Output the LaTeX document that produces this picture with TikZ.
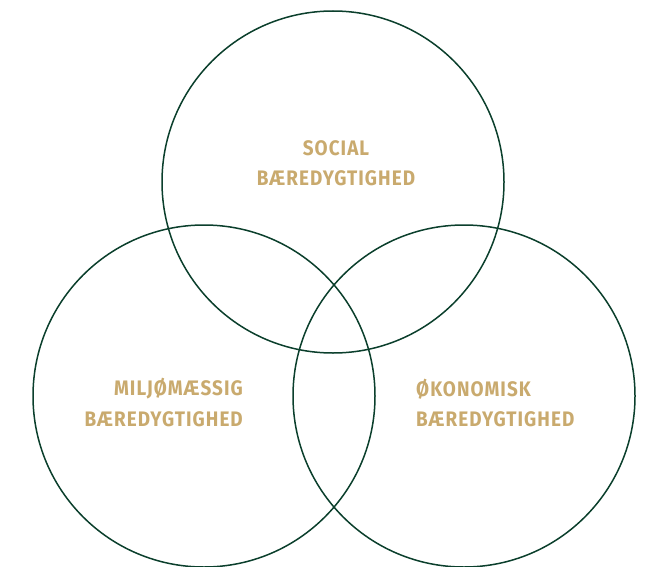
\documentclass[tikz,border=0pt]{standalone}
\usepackage{fontspec}
\usepackage{graphicx}
\setmainfont{Fira Sans}
\definecolor{ring}{HTML}{0B3F2C}
\definecolor{gold}{HTML}{C9AA6E}
\newcommand{\cond}[1]{\scalebox{0.9}[1]{#1}}
\begin{document}
\begin{tikzpicture}[x=1pt,y=-1pt,
  ring/.style={draw=ring,line width=1.5pt},
  lbl/.style={text=gold,font=\fontsize{21}{30}\bfseries\addfontfeature{LetterSpace=5.5},inner sep=0pt}]
\useasboundingbox (0,0) rectangle (650,567);
\draw[ring] (333,182) circle (171);
\draw[ring] (204,396) circle (171);
\draw[ring] (464,396) circle (171);
\node[lbl] (s1) at (336,148) {\cond{SOCIAL}};
\node[lbl] (s2) at (336,178) {\cond{BÆREDYGTIGHED}};
\node[lbl,anchor=east] (m1) at (243,389) {\cond{MILJØMÆSSIG}};
\node[lbl,anchor=east] (m2) at (243,419) {\cond{BÆREDYGTIGHED}};
\node[lbl,anchor=west] (o1) at (416,389) {\cond{ØKONOMISK}};
\node[lbl,anchor=west] (o2) at (416,419) {\cond{BÆREDYGTIGHED}};
\end{tikzpicture}
\end{document}
